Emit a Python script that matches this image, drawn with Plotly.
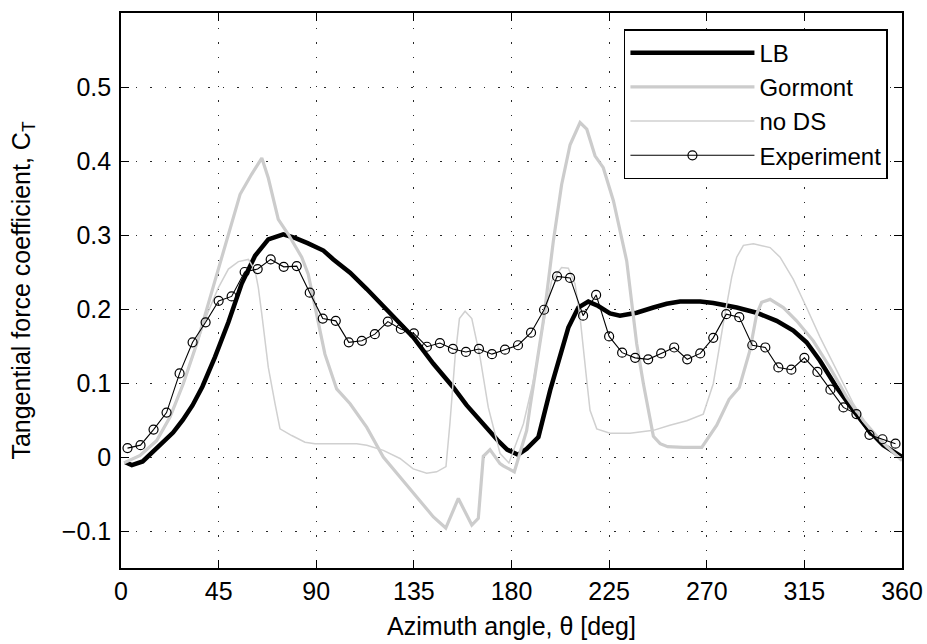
import plotly.graph_objects as go

# ---------------- data ----------------
lb_theta = [2, 5, 10, 18, 24, 28.5, 33, 37.5, 43.3, 49.5, 55.6, 61.8, 67.9, 74.8, 80.2, 86,
            93.3, 97.9, 105.6, 113.3, 120.9, 127, 134.7, 144, 153.2, 159.3, 166, 173.5, 178,
            181, 183, 187, 192.4, 197.8, 202.4, 206.2, 210.8, 215.4, 220, 225.4, 230, 237.7,
            245.4, 251.5, 257.7, 262.3, 267, 273, 283.8, 293, 302.2, 309.9, 316, 322.2, 329.9,
            337.6, 345.3, 351.4, 355.5, 360]
lb_ct = [-0.007, -0.011, -0.006, 0.016, 0.033, 0.050, 0.070, 0.095, 0.135, 0.182, 0.234, 0.272,
         0.294, 0.301, 0.296, 0.289, 0.279, 0.267, 0.249, 0.227, 0.204, 0.187, 0.162, 0.126,
         0.094, 0.070, 0.047, 0.023, 0.010, 0.005, 0.003, 0.011, 0.027, 0.090, 0.139, 0.175,
         0.202, 0.210, 0.204, 0.194, 0.191, 0.195, 0.202, 0.207, 0.210, 0.210, 0.210, 0.208,
         0.202, 0.195, 0.184, 0.171, 0.155, 0.130, 0.094, 0.063, 0.034, 0.016, 0.008, 0.000]

gormont_theta = [1.4, 8.8, 16.4, 22.6, 28.7, 34.9, 43.3, 49.5, 54.9, 60.2, 64.9, 67.9, 72.5, 77.1,
                 83.3, 86.3, 88.5, 90.2, 94, 99.4, 105.6, 113.3, 120.9, 128.6, 136.3, 144, 149.7,
                 155.5, 161.7, 164.7, 167, 170.1, 174.7, 176.2, 181.3, 187, 188.5, 194.7, 199.3,
                 203.1, 207, 211.6, 214.7, 218.5, 222.3, 227, 233.1, 237.7, 240.8, 245.4, 248.5,
                 252, 259.2, 267.7, 274.6, 280.3, 285, 289.9, 293, 295.3, 299.2, 305.3, 311.4,
                 319.1, 326.8, 334.5, 342.2, 349.9, 360]
gormont_ct = [-0.008, 0.002, 0.022, 0.054, 0.099, 0.153, 0.238, 0.301, 0.355, 0.382, 0.404, 0.377,
              0.321, 0.301, 0.270, 0.247, 0.215, 0.189, 0.139, 0.092, 0.072, 0.040, 0.000, -0.027,
              -0.054, -0.081, -0.096, -0.056, -0.092, -0.083, 0.001, 0.010, -0.009, -0.012,
              -0.020, 0.036, 0.067, 0.184, 0.292, 0.368, 0.422, 0.452, 0.443, 0.407, 0.391, 0.346,
              0.265, 0.153, 0.099, 0.028, 0.018, 0.014, 0.013, 0.013, 0.043, 0.078, 0.094, 0.144,
              0.193, 0.209, 0.213, 0.202, 0.184, 0.157, 0.121, 0.081, 0.049, 0.023, -0.005]

nods_theta = [1.4, 8.8, 16.4, 22.6, 28.7, 34.9, 40, 44.9, 49.5, 54.1, 58.7, 61.8, 63.3, 64.9, 67.9,
              71, 73.3, 78.7, 84.8, 89.4, 108.6, 113.3, 120.9, 128.6, 134.7, 140.9, 145.5, 149.8,
              151.6, 154, 156, 158.6, 161.7, 165.5, 169.3, 174.7, 178.8, 185.5, 190.1, 194.7,
              198.5, 203.1, 206.2, 209.3, 211.6, 214.7, 216.2, 219.3, 225.4, 234.6, 245.4, 253,
              260.8, 268.4, 273, 277.6, 281.5, 283.8, 286.9, 291.5, 299.2, 303.8, 309.9, 316,
              322.2, 329.9, 337.6, 345.3, 352.9, 360]
nods_ct = [-0.007, 0.002, 0.022, 0.054, 0.099, 0.153, 0.195, 0.229, 0.254, 0.264, 0.267, 0.252,
           0.229, 0.193, 0.121, 0.072, 0.038, 0.029, 0.020, 0.018, 0.018, 0.016, 0.009, -0.002,
           -0.016, -0.022, -0.020, -0.013, 0.045, 0.135, 0.187, 0.197, 0.187, 0.135, 0.067,
           0.005, -0.008, 0.045, 0.103, 0.180, 0.238, 0.256, 0.255, 0.234, 0.189, 0.103, 0.063,
           0.038, 0.032, 0.032, 0.036, 0.043, 0.049, 0.058, 0.099, 0.180, 0.243, 0.270, 0.286,
           0.288, 0.283, 0.270, 0.240, 0.202, 0.162, 0.117, 0.072, 0.036, 0.013, -0.002]

exp_theta = [3, 9, 15, 21, 27, 33, 39, 45, 51, 57, 63, 69, 75, 81, 87, 93, 99, 105, 111, 117,
             123, 129, 135, 141, 147, 153, 159, 165, 171, 177, 183, 189, 195, 201, 207, 213,
             219, 225, 231, 237, 243, 249, 255, 261, 267, 273, 279, 285, 291, 297, 303, 309,
             315, 321, 327, 333, 339, 345, 351, 357]
exp_ct = [0.012, 0.016, 0.037, 0.060, 0.113, 0.155, 0.182, 0.211, 0.217, 0.250, 0.254, 0.267,
          0.257, 0.258, 0.222, 0.187, 0.184, 0.155, 0.157, 0.166, 0.183, 0.173, 0.167, 0.149,
          0.154, 0.146, 0.142, 0.146, 0.139, 0.145, 0.151, 0.168, 0.199, 0.244, 0.242, 0.191,
          0.219, 0.163, 0.141, 0.134, 0.132, 0.140, 0.148, 0.132, 0.140, 0.161, 0.193, 0.189,
          0.151, 0.148, 0.121, 0.118, 0.134, 0.115, 0.091, 0.067, 0.058, 0.030, 0.024, 0.018]

x_ticks = [0, 45, 90, 135, 180, 225, 270, 315, 360]
y_ticks = [-0.1, 0, 0.1, 0.2, 0.3, 0.4, 0.5]

# ---------------- figure ----------------
FONT = "Liberation Sans, Arial, Helvetica, sans-serif"
FS = 25

fig = go.Figure()
fig.add_trace(go.Scatter(x=lb_theta, y=lb_ct, mode="lines", name="LB",
                         line=dict(color="black", width=4.5)))
fig.add_trace(go.Scatter(x=gormont_theta, y=gormont_ct, mode="lines", name="Gormont",
                         line=dict(color="rgb(204,204,204)", width=3.2)))
fig.add_trace(go.Scatter(x=nods_theta, y=nods_ct, mode="lines", name="no DS",
                         line=dict(color="rgb(208,208,208)", width=1.5)))
fig.add_trace(go.Scatter(x=exp_theta, y=exp_ct, mode="lines+markers", name="Experiment",
                         line=dict(color="black", width=1.1),
                         marker=dict(symbol="circle-open", size=9, color="black",
                                     line=dict(width=1.2, color="black"))))

axis_common = dict(showline=True, linecolor="black", linewidth=1.6, mirror="ticks",
                   ticks="inside", ticklen=8, tickwidth=1, tickcolor="black",
                   showgrid=True, gridcolor="rgb(40,40,40)", gridwidth=1,
                   griddash="1.5px,13px", zeroline=False,
                   tickfont=dict(family=FONT, size=FS, color="black"))

fig.update_xaxes(range=[0, 360], tickvals=x_ticks, ticktext=[str(v) for v in x_ticks],
                 title=dict(text="Azimuth angle, θ [deg]", font=dict(family=FONT, size=FS, color="black"),
                            standoff=14),
                 **axis_common)
fig.update_yaxes(range=[-0.15, 0.6], tickvals=y_ticks,
                 ticktext=["\u22120.1", "0", "0.1", "0.2", "0.3", "0.4", "0.5"],
                 ticklabelstandoff=3,
                 title=dict(text="Tangential force coefficient, C<sub>T</sub>",
                            font=dict(family=FONT, size=FS, color="black"), standoff=24),
                 **axis_common)

fig.update_layout(
    width=927, height=644,
    margin=dict(l=121, r=25, t=13, b=76, autoexpand=False),
    paper_bgcolor="white", plot_bgcolor="white",
    font=dict(family=FONT, size=FS, color="black"),
    showlegend=True,
    legend=dict(x=0.982, y=0.971, xanchor="right", yanchor="top",
                bgcolor="white", bordercolor="black", borderwidth=1.5,
                font=dict(family=FONT, size=24, color="black"),
                itemwidth=124, traceorder="normal"),
)

fig.write_html("out.html", config={"displayModeBar": False},
               post_script="document.body.style.margin='0px';document.body.style.padding='0px';")
